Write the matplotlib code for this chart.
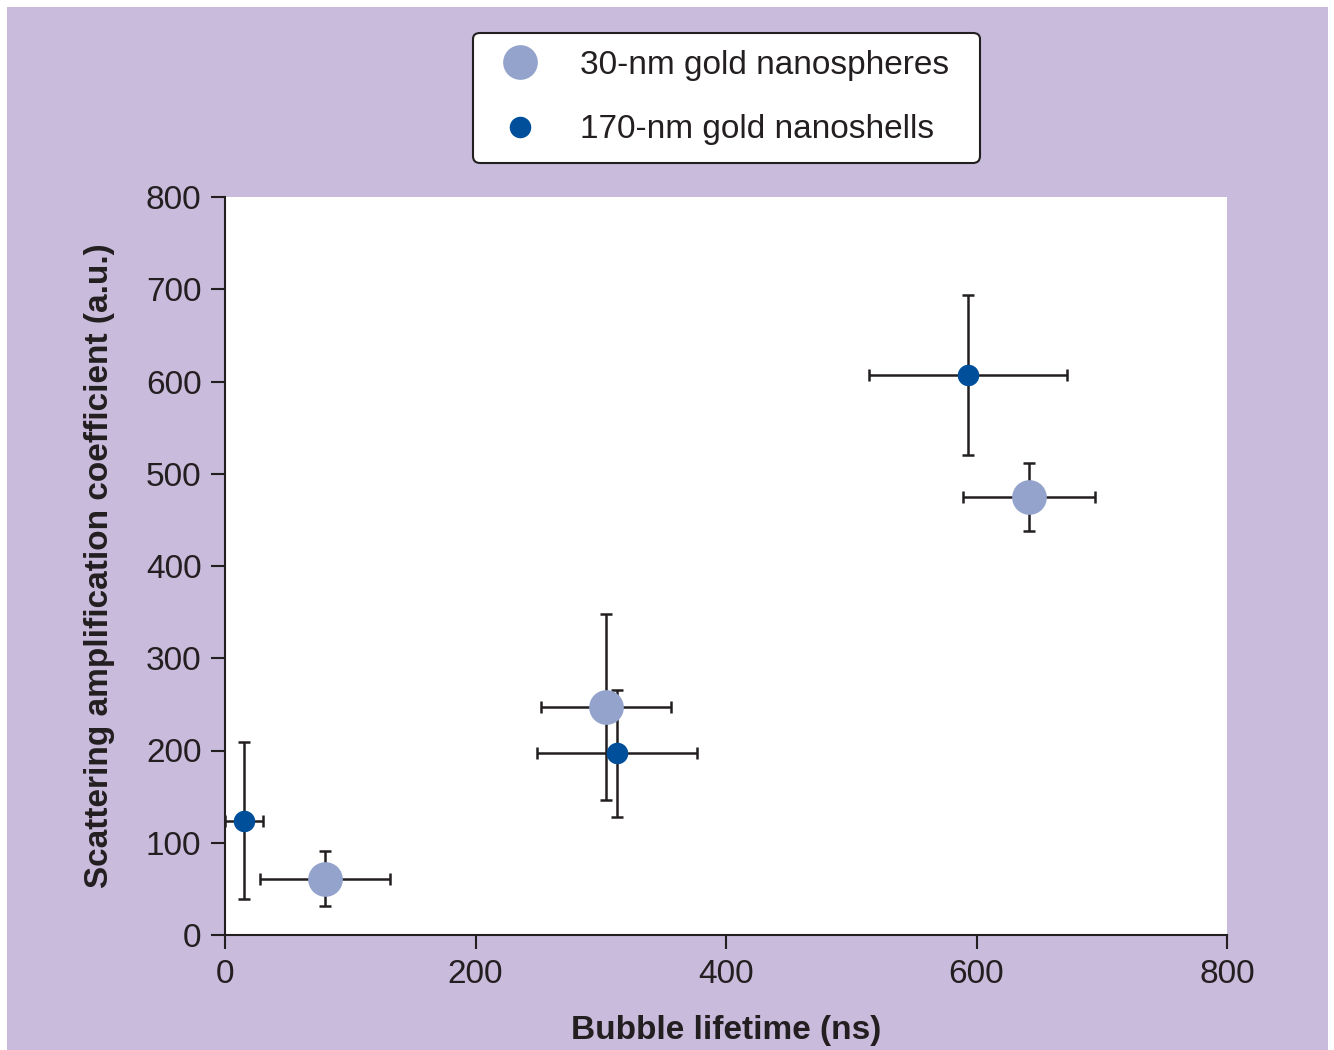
import matplotlib
matplotlib.use("Agg")
import matplotlib.pyplot as plt
from matplotlib.lines import Line2D
from matplotlib.patches import Rectangle

# 30-nm gold nanospheres
spheres_x = [80, 304, 642]
spheres_xerr = [52, 52, 53]
spheres_y = [61, 247, 475]
spheres_yerr = [30, 101, 37]

# 170-nm gold nanoshells
shells_x = [15, 313, 593]
shells_xerr = [15, 64, 79]
shells_y = [124, 197, 607]
shells_yerr = [85, 69, 87]

labels = ["30-nm gold nanospheres", "170-nm gold nanoshells"]
xticks = [0, 200, 400, 600, 800]
yticks = [0, 100, 200, 300, 400, 500, 600, 700, 800]

bg = "#C8BBDC"
light = "#93A3CC"
dark = "#004F9A"
ink = "#231F20"

plt.rcParams["font.family"] = ["Liberation Sans", "DejaVu Sans"]

fig = plt.figure(figsize=(13.34, 10.5), dpi=100)
fig.patch.set_facecolor("white")
fig.patches.append(Rectangle((7 / 1334, 0), 1321 / 1334, 1 - 7 / 1050,
                             transform=fig.transFigure, facecolor=bg,
                             edgecolor="none", zorder=-10))

ax = fig.add_axes([225 / 1334, 1 - 935 / 1050, 1002 / 1334, 738 / 1050])
ax.set_facecolor("white")

eb = dict(fmt="none", ecolor=ink, elinewidth=1.8, capsize=4.5, capthick=1.8, zorder=2)
ax.errorbar(spheres_x, spheres_y, xerr=spheres_xerr, yerr=spheres_yerr, **eb)
ax.errorbar(shells_x, shells_y, xerr=shells_xerr, yerr=shells_yerr, **eb)
ax.plot(spheres_x, spheres_y, "o", ms=25, color=light, mec="none", zorder=3, clip_on=False)
ax.plot(shells_x, shells_y, "o", ms=15.5, color=dark, mec="none", zorder=4, clip_on=False)

ax.set_xlim(0, 800)
ax.set_ylim(0, 800)
ax.set_xticks(xticks)
ax.set_yticks(yticks)
for s in ["top", "right"]:
    ax.spines[s].set_visible(False)
for s in ["left", "bottom"]:
    ax.spines[s].set_linewidth(1.5)
    ax.spines[s].set_color(ink)
ax.tick_params(direction="out", length=10, width=1.5, color=ink,
               labelsize=24, labelcolor=ink, pad=7)

ax.set_xlabel("Bubble lifetime (ns)", fontsize=24, fontweight="bold", color=ink, labelpad=18)
ax.set_ylabel("Scattering amplification coefficient (a.u.)", fontsize=24,
              fontweight="bold", color=ink, labelpad=22)

handles = [Line2D([], [], ls="none", marker="o", ms=25, color=light, mec="none"),
           Line2D([], [], ls="none", marker="o", ms=15.5, color=dark, mec="none")]
leg = fig.legend(handles, labels, loc="center", mode="expand",
                 bbox_to_anchor=(473 / 1334, 1 - 162 / 1050, 507 / 1334, 129 / 1050),
                 fontsize=24, frameon=True, fancybox=True, borderpad=0.52,
                 labelspacing=1.0, handletextpad=0.92, handlelength=1.76,
                 borderaxespad=0)
frame = leg.get_frame()
frame.set_edgecolor(ink)
frame.set_linewidth(1.5)
frame.set_facecolor("white")
frame.set_alpha(1)
for t in leg.get_texts():
    t.set_color(ink)

fig.savefig("out.png", dpi=100, facecolor=fig.get_facecolor())
